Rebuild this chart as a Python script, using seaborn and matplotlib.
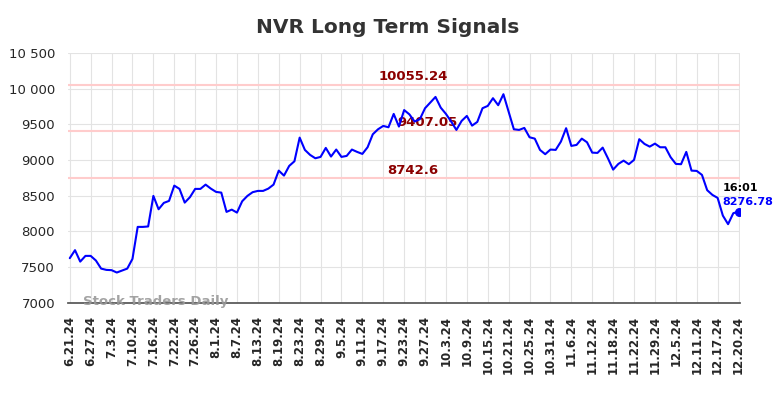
import numpy as np
import pandas as pd
import seaborn as sns
import matplotlib.pyplot as plt
from matplotlib.ticker import FuncFormatter, MultipleLocator

tick_labels = [
    "6.21.24", "6.27.24", "7.3.24", "7.10.24", "7.16.24", "7.22.24", "7.26.24",
    "8.1.24", "8.7.24", "8.13.24", "8.19.24", "8.23.24", "8.29.24", "9.5.24",
    "9.11.24", "9.17.24", "9.23.24", "9.27.24", "10.3.24", "10.9.24", "10.15.24",
    "10.21.24", "10.25.24", "10.31.24", "11.6.24", "11.12.24", "11.18.24",
    "11.22.24", "11.29.24", "12.5.24", "12.11.24", "12.17.24", "12.20.24",
]

prices = [
    7626, 7738, 7578, 7658, 7658, 7593, 7480, 7462, 7458, 7425,
    7452, 7480, 7616, 8064, 8064, 8070, 8498, 8311, 8400, 8428,
    8642, 8596, 8404, 8480, 8596, 8596, 8656, 8600, 8554, 8544,
    8274, 8306, 8264, 8423, 8498, 8550, 8568, 8568, 8600, 8656,
    8852, 8782, 8918, 8983, 9314, 9142, 9072, 9025, 9044, 9170,
    9049, 9147, 9044, 9058, 9147, 9114, 9086, 9179, 9361, 9431,
    9478, 9459, 9646, 9469, 9700, 9640, 9539, 9572, 9726, 9804,
    9884, 9734, 9646, 9539, 9422, 9548, 9618, 9482, 9534, 9726,
    9758, 9866, 9768, 9922, 9678, 9431, 9422, 9450, 9319, 9300,
    9142, 9082, 9147, 9142, 9258, 9446, 9198, 9212, 9300, 9249,
    9104, 9100, 9174, 9025, 8866, 8946, 8992, 8942, 9002, 9292,
    9226, 9188, 9230, 9179, 9179, 9040, 8946, 8942, 9114, 8852,
    8848, 8792, 8578, 8512, 8470, 8222, 8102, 8256, 8276.78,
]

levels = [10055.24, 9407.05, 8742.6]
level_texts = ["10055.24", "9407.05", "8742.6"]
level_label_pos = [65.7, 68.4, 65.7]

df = pd.DataFrame({"idx": np.arange(len(prices)), "price": prices})

sns.set_theme(style="whitegrid", rc={
    "grid.color": "#e3e3e3",
    "grid.linewidth": 0.8,
    "axes.edgecolor": "#555555",
})
plt.rcParams["font.family"] = ["DejaVu Sans"]

fig, ax = plt.subplots(figsize=(7.84, 3.98), dpi=100)
fig.subplots_adjust(left=0.087, right=0.944, top=0.867, bottom=0.239)

for lv, txt, px in zip(levels, level_texts, level_label_pos):
    ax.axhline(lv, color="#ffcccc", linewidth=1.5, zorder=1)
    ax.text(px, lv + 25, txt, color="#8b0000", fontsize=9.5, fontweight="bold",
            ha="center", va="bottom", zorder=3)

sns.lineplot(data=df, x="idx", y="price", color="#0000ff", linewidth=1.5, ax=ax, zorder=4)
ax.scatter([df["idx"].iloc[-1]], [prices[-1]], color="#0000ff", s=30, zorder=5)

ax.text(124.9, 8610, "16:01", color="black",
        fontsize=8, fontweight="bold", ha="left", va="center")
ax.text(124.9, 8414, f"{prices[-1]:.2f}", color="#0000ff",
        fontsize=8, fontweight="bold", ha="left", va="center")

ax.text(2.5, 7020, "Stock Traders Daily", color="#999999", fontsize=9.5,
        fontweight="bold", alpha=0.9, ha="left", va="center")

tick_pos = np.arange(0, len(prices), 4)
ax.set_xticks(tick_pos)
ax.set_xticklabels(tick_labels, rotation=90, fontweight="bold", fontsize=8.5)
ax.set_xlim(-0.3, 128.3)
ax.set_ylim(7000, 10500)
ax.yaxis.set_major_locator(MultipleLocator(500))


def fmt(v, p):
    v = int(v)
    return f"{v:,}".replace(",", " ") if v >= 10000 else str(v)


ax.yaxis.set_major_formatter(FuncFormatter(fmt))
ax.tick_params(axis="y", labelsize=9.5)
ax.set_xlabel("")
ax.set_ylabel("")

for side in ["top", "right", "left"]:
    ax.spines[side].set_visible(False)
ax.spines["bottom"].set_color("#555555")

fig.suptitle("NVR Long Term Signals", fontsize=14.5, fontweight="bold",
             color="#333333", x=0.495, y=0.955)

fig.savefig("out.png", dpi=100)
